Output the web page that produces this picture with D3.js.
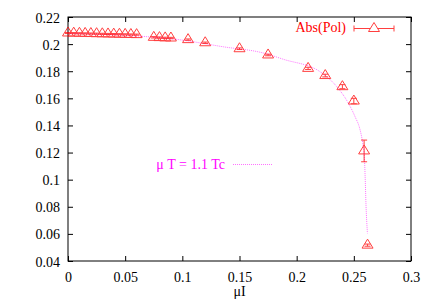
<!DOCTYPE html>
<html>
<head>
<meta charset="utf-8">
<script src="https://cdn.jsdelivr.net/npm/d3@7"></script>
<style>
  html, body { margin: 0; padding: 0; background: #fff; }
  svg { display: block; }
  svg text { font-family: "Liberation Serif", "Times New Roman", Times, "Nimbus Roman", "DejaVu Serif", serif !important; }
</style>
</head>
<body>
<svg id="chart" width="436" height="305"></svg>
<script>
// ---- data ----
const muI = [0, 0.005, 0.01, 0.015, 0.02, 0.025, 0.03, 0.035, 0.04, 0.045, 0.05, 0.055, 0.06,
             0.075, 0.08, 0.085, 0.09, 0.105, 0.12, 0.15, 0.175, 0.21, 0.225, 0.24, 0.25, 0.259, 0.262];
const absPol = [0.2082, 0.2081, 0.2080, 0.2079, 0.2078, 0.2077, 0.2076, 0.2075, 0.2074, 0.2073, 0.2072, 0.2071, 0.2070,
                0.2050, 0.2048, 0.2046, 0.2045, 0.2033, 0.2010, 0.1966, 0.1920, 0.1821, 0.1768, 0.1686, 0.1580, 0.1212, 0.0517];
const absPolErr = [0.0004, 0.0004, 0.0004, 0.0004, 0.0004, 0.0004, 0.0004, 0.0004, 0.0004, 0.0004, 0.0004, 0.0004, 0.0004,
                   0.0005, 0.0005, 0.0005, 0.0005, 0.0005, 0.0005, 0.0006, 0.0006, 0.0008, 0.0010, 0.0015, 0.0020, 0.0080, 0.0008];
const fitX = [0, 0.03, 0.06, 0.095, 0.136, 0.171, 0.1884, 0.2205, 0.2351, 0.2453, 0.2511, 0.2555, 0.2578, 0.2592, 0.2598, 0.2607, 0.2619];
const fitY = [0.2078, 0.2072, 0.2060, 0.2035, 0.1980, 0.1934, 0.1888, 0.1796, 0.1686, 0.1563, 0.1464, 0.1366, 0.1268, 0.1169, 0.1046, 0.0800, 0.0604];
const xTicks = [0, 0.05, 0.1, 0.15, 0.2, 0.25, 0.3];
const xTickLabels = ["0", "0.05", "0.1", "0.15", "0.2", "0.25", "0.3"];
const yTicks = [0.04, 0.06, 0.08, 0.1, 0.12, 0.14, 0.16, 0.18, 0.2, 0.22];
const yTickLabels = ["0.04", "0.06", "0.08", "0.1", "0.12", "0.14", "0.16", "0.18", "0.2", "0.22"];
const seriesLabel = "Abs(Pol)";
const fitLabel = "\u03BC T = 1.1 Tc";
const xLabel = "\u03BCI";

// ---- layout ----
const W = 436, H = 305;
const m = { left: 68, right: 25, top: 17, bottom: 44 };
const FONT = "'Liberation Serif', 'Times New Roman', Times, 'Nimbus Roman', 'DejaVu Serif', serif";
const svg = d3.select("#chart");
const x = d3.scaleLinear().domain([0, 0.3]).range([m.left, W - m.right]);
const y = d3.scaleLinear().domain([0.04, 0.22]).range([H - m.bottom, m.top]);
const RED = "#ff0000", MAG = "#ff00ff";
const tick = 5;

// axes (ticks inward, mirrored)
const fmtX = (d, i) => xTickLabels[i];
const fmtY = (d, i) => yTickLabels[i];
const gB = svg.append("g").attr("transform", `translate(0,${H - m.bottom})`)
  .call(d3.axisBottom(x).tickValues(xTicks).tickFormat(fmtX).tickSizeInner(-tick).tickSizeOuter(0));
const gT = svg.append("g").attr("transform", `translate(0,${m.top})`)
  .call(d3.axisTop(x).tickValues(xTicks).tickFormat("").tickSizeInner(-tick).tickSizeOuter(0));
const gL = svg.append("g").attr("transform", `translate(${m.left},0)`)
  .call(d3.axisLeft(y).tickValues(yTicks).tickFormat(fmtY).tickSizeInner(-tick).tickSizeOuter(0));
const gR = svg.append("g").attr("transform", `translate(${W - m.right},0)`)
  .call(d3.axisRight(y).tickValues(yTicks).tickFormat("").tickSizeInner(-tick).tickSizeOuter(0));
[gB, gT, gL, gR].forEach(g => {
  g.attr("font-family", FONT).attr("font-size", 14);
  g.select(".domain").remove();
  g.selectAll("line").attr("stroke", "#000").attr("stroke-width", 1);
  g.selectAll("text").attr("fill", "#000");
});
gL.selectAll("text").attr("x", -8).attr("y", 5).attr("dy", null);
gB.selectAll("text").attr("y", 20.5).attr("dy", null);

// frame
svg.append("rect").attr("x", m.left).attr("y", m.top)
  .attr("width", W - m.left - m.right).attr("height", H - m.top - m.bottom)
  .attr("fill", "none").attr("stroke", "#000").attr("stroke-width", 1);

// fit curve
const fitData = fitX.map((v, i) => [v, fitY[i]]);
svg.append("path").datum(fitData)
  .attr("d", d3.line().x(d => x(d[0])).y(d => y(d[1])).curve(d3.curveMonotoneX))
  .attr("fill", "none").attr("stroke", MAG).attr("stroke-width", 1)
  .attr("stroke-dasharray", "1,1").attr("opacity", 0.55);

// points with error bars
const pts = muI.map((v, i) => ({ x: v, y: absPol[i], e: absPolErr[i] }));
const triH = 9, triW = 11;
const triPath = (cx, cy) => `M${cx},${cy - triH * 2 / 3} L${cx - triW / 2},${cy + triH / 3} L${cx + triW / 2},${cy + triH / 3} Z`;
const gp = svg.append("g").attr("stroke", RED).attr("fill", "none").attr("stroke-width", 1).attr("opacity", 0.75);
pts.forEach(p => {
  const cx = x(p.x), y0 = y(p.y - p.e), y1 = y(p.y + p.e);
  gp.append("line").attr("x1", cx).attr("x2", cx).attr("y1", y0).attr("y2", y1);
  gp.append("line").attr("x1", cx - 3).attr("x2", cx + 3).attr("y1", y0).attr("y2", y0);
  gp.append("line").attr("x1", cx - 3).attr("x2", cx + 3).attr("y1", y1).attr("y2", y1);
  gp.append("path").attr("d", triPath(cx, y(p.y)));
});

// legend 1
svg.append("text").attr("x", 346).attr("y", 32).attr("text-anchor", "end")
  .attr("font-family", FONT).attr("font-size", 14).attr("fill", RED).text(seriesLabel);
const lg = svg.append("g").attr("stroke", RED).attr("fill", "none").attr("stroke-width", 1).attr("opacity", 0.75);
lg.append("line").attr("x1", 354).attr("x2", 394).attr("y1", 28.5).attr("y2", 28.5);
lg.append("line").attr("x1", 354).attr("x2", 354).attr("y1", 25.5).attr("y2", 31.5);
lg.append("line").attr("x1", 394).attr("x2", 394).attr("y1", 25.5).attr("y2", 31.5);
lg.append("path").attr("d", triPath(374, 28.5)).attr("fill", "#fff");

// legend 2
svg.append("text").attr("x", 225).attr("y", 169).attr("text-anchor", "end")
  .attr("font-family", FONT).attr("font-size", 14).attr("fill", MAG).text(fitLabel);
svg.append("line").attr("x1", 233).attr("x2", 272).attr("y1", 164.5).attr("y2", 164.5)
  .attr("stroke", MAG).attr("stroke-width", 1).attr("stroke-dasharray", "1,1").attr("opacity", 0.55);

// x label
svg.append("text").attr("x", (m.left + W - m.right) / 2).attr("y", 296).attr("text-anchor", "middle")
  .attr("font-family", FONT).attr("font-size", 14).attr("fill", "#000").text(xLabel);
</script>
</body>
</html>
